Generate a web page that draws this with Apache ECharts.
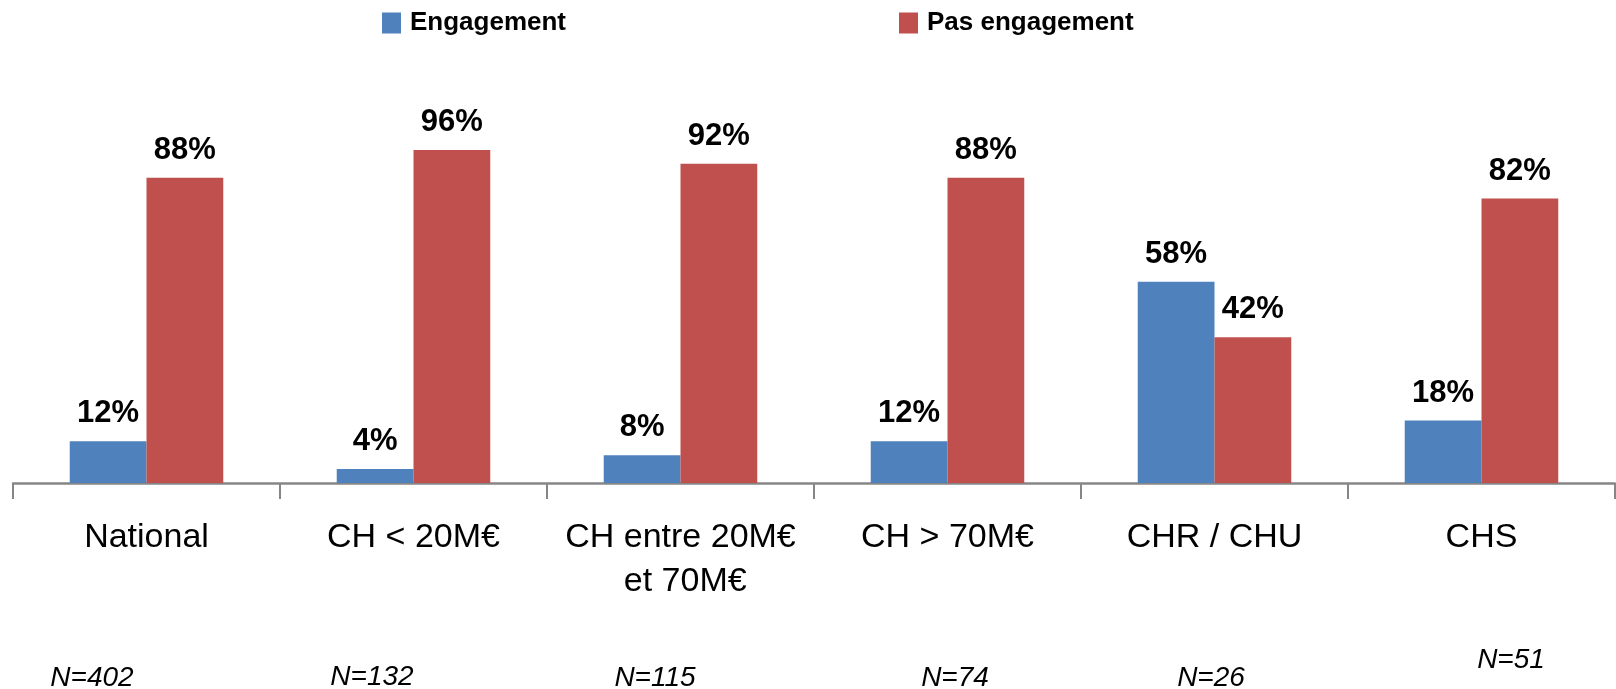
<!DOCTYPE html>
<html>
<head>
<meta charset="utf-8">
<script src="https://cdn.jsdelivr.net/npm/echarts@6/dist/echarts.min.js"></script>
<style>
  html, body { margin: 0; padding: 0; background: #ffffff; }
  #chart { width: 1616px; height: 689px; }
</style>
</head>
<body>
<div id="chart"></div>
<script>
// Establishment categories
const categories = ['National', 'CH < 20M€', 'CH entre 20M€ et 70M€', 'CH > 70M€', 'CHR / CHU', 'CHS'];
// Share of establishments (%)
const engagement = [12, 4, 8, 12, 58, 18];
const pasEngagement = [88, 96, 92, 88, 42, 82];
// Sample size per category
const sampleSizes = [402, 132, 115, 74, 26, 51];

// Placement of the sample-size notes under the axis (centre x, middle y)
const noteLayout = [
  [92, 678], [372, 677], [655, 678], [955, 678], [1211, 678], [1511, 660]
];

const FONT = '"Liberation Sans", Arial, sans-serif';

const chart = echarts.init(document.getElementById('chart'), null, { renderer: 'canvas' });

const valueLabel = {
  show: true,
  position: 'top',
  distance: 12,
  formatter: p => p.value + '%',
  fontFamily: FONT,
  fontWeight: 'bold',
  fontSize: 31,
  color: '#000000'
};

chart.setOption({
  animation: false,
  backgroundColor: '#ffffff',
  legend: {
    left: 377,
    top: 5,
    itemWidth: 19,
    itemHeight: 21,
    itemGap: 333,
    icon: 'rect',
    textStyle: {
      fontFamily: FONT,
      fontWeight: 'bold',
      fontSize: 26,
      color: '#000000',
      padding: [0, 0, 0, 4]
    },
    data: ['Engagement', 'Pas engagement']
  },
  grid: {
    left: 13,
    right: 1,
    top: 136,
    bottom: 206,
    containLabel: false
  },
  xAxis: {
    type: 'category',
    data: categories,
    boundaryGap: true,
    axisLine: { show: true, lineStyle: { color: '#868686', width: 2.5 } },
    axisTick: { show: true, length: 16, lineStyle: { color: '#868686', width: 2 } },
    axisLabel: {
      interval: 0,
      margin: 33,
      fontFamily: FONT,
      fontSize: 34,
      lineHeight: 44,
      color: '#000000',
      width: 255,
      overflow: 'break'
    }
  },
  yAxis: {
    type: 'value',
    min: 0,
    max: 100,
    show: false,
    splitLine: { show: false }
  },
  series: [
    {
      name: 'Engagement',
      type: 'bar',
      data: engagement,
      barGap: '0%',
      barCategoryGap: '42.5%',
      itemStyle: { color: '#4F81BD' },
      label: valueLabel
    },
    {
      name: 'Pas engagement',
      type: 'bar',
      data: pasEngagement,
      barGap: '0%',
      barCategoryGap: '42.5%',
      itemStyle: { color: '#C0504D' },
      label: valueLabel
    }
  ],
  graphic: sampleSizes.map((n, i) => ({
    type: 'text',
    x: noteLayout[i][0],
    y: noteLayout[i][1],
    silent: true,
    style: {
      text: 'N=' + n,
      fill: '#000000',
      font: 'italic 28px ' + FONT,
      textAlign: 'center',
      textVerticalAlign: 'middle'
    }
  }))
});
</script>
</body>
</html>
